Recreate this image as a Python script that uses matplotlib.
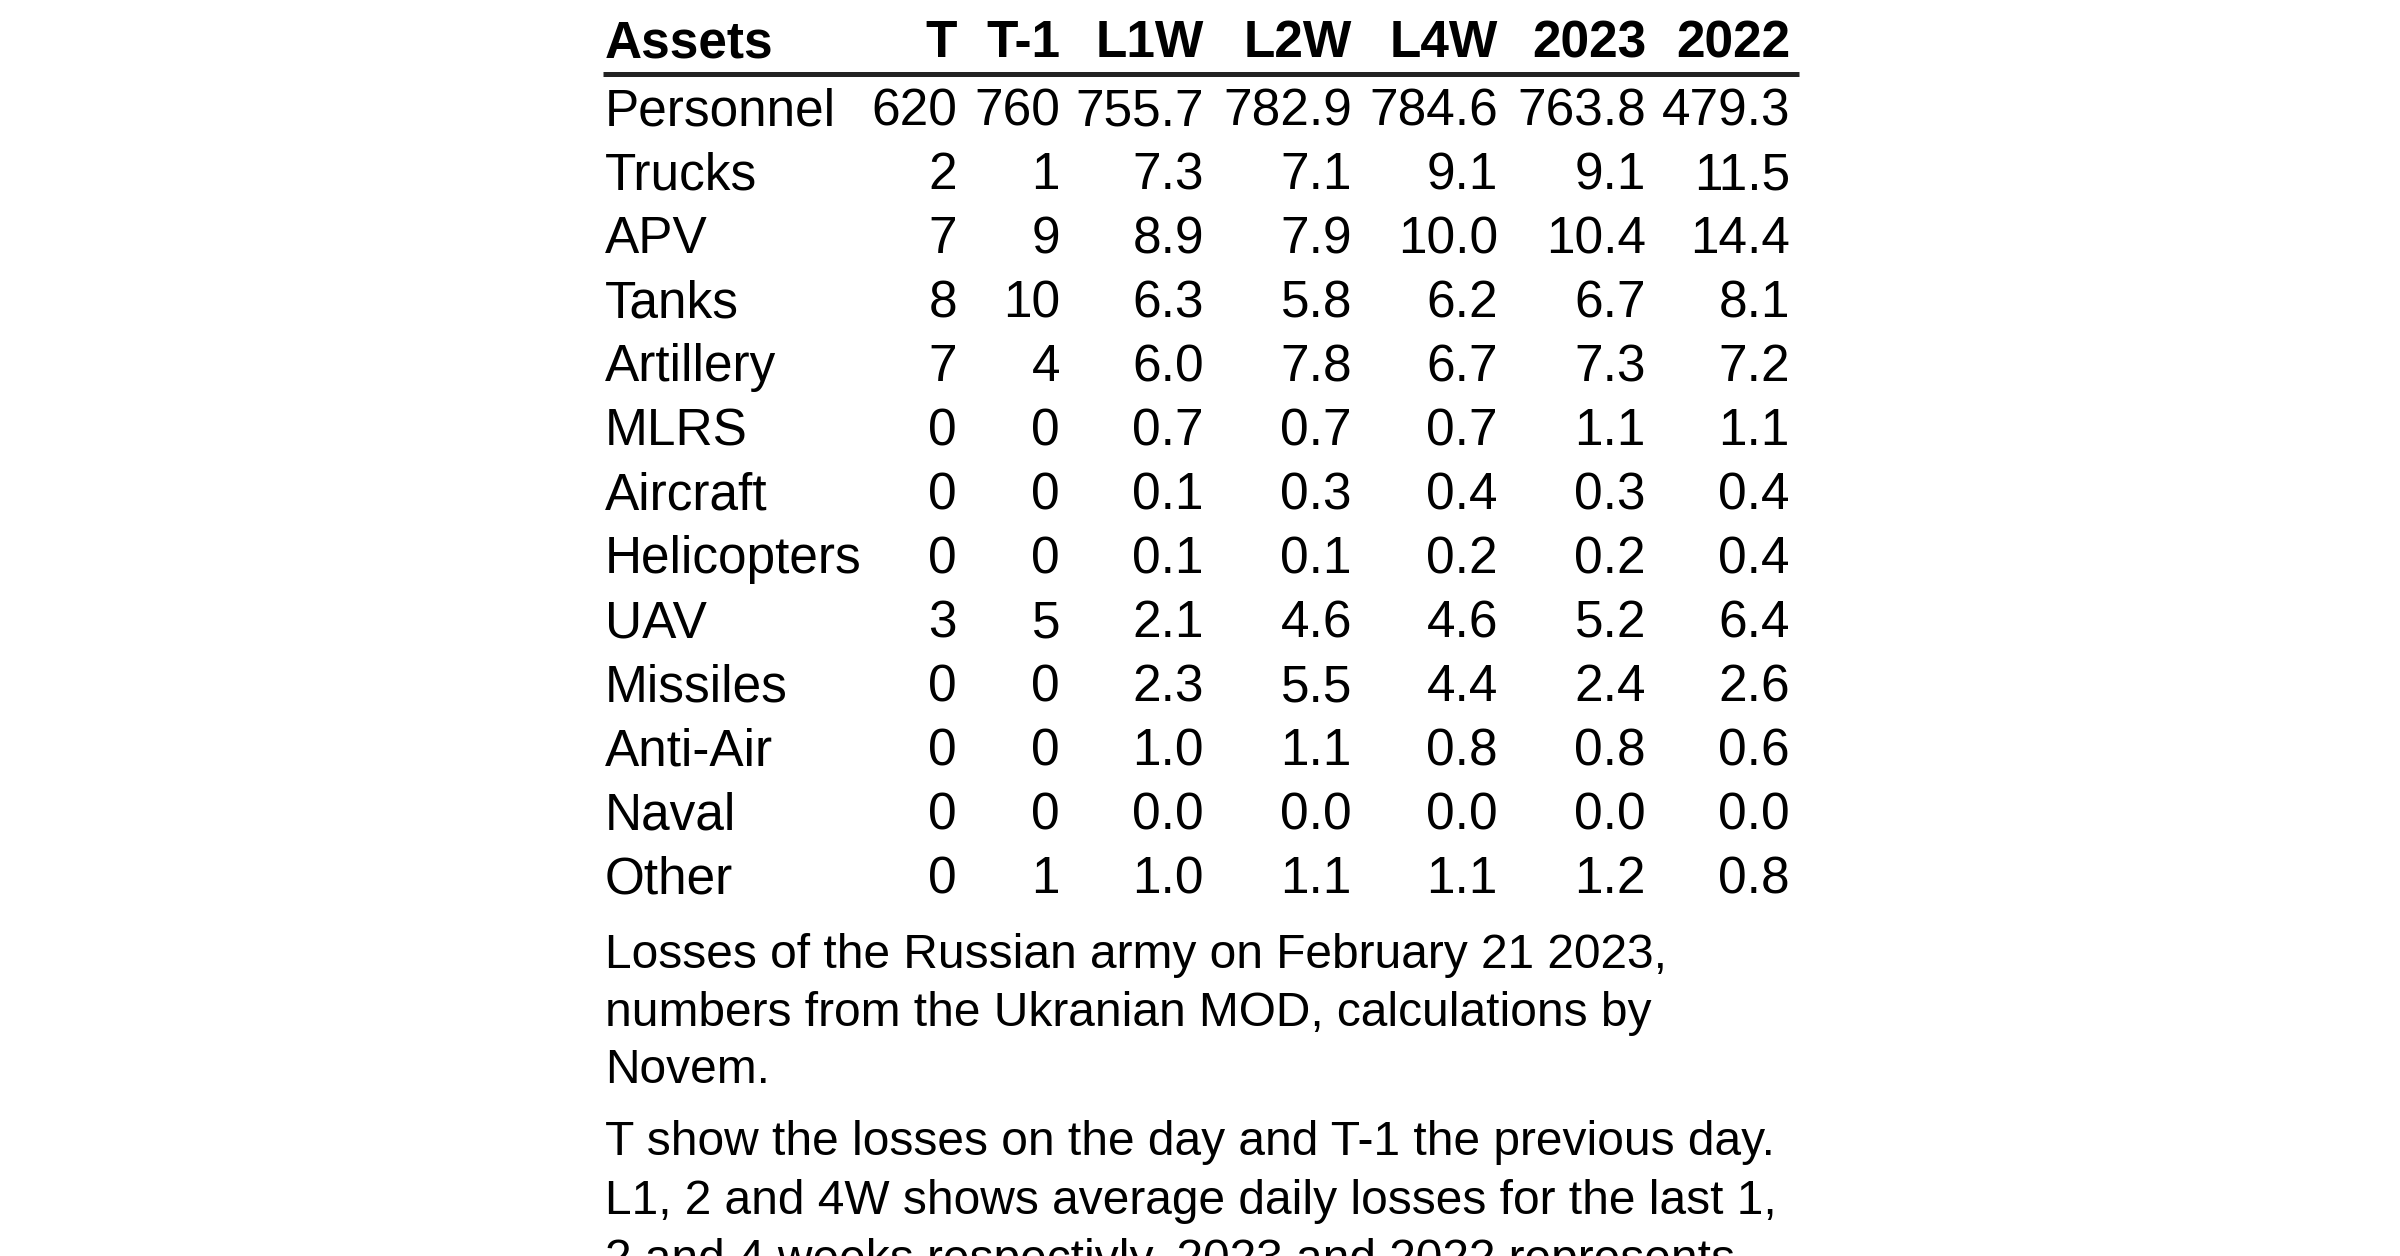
import matplotlib.pyplot as plt

# table data
columns = ['T', 'T-1', 'L1W', 'L2W', 'L4W', '2023', '2022']
assets = ['Personnel', 'Trucks', 'APV', 'Tanks', 'Artillery', 'MLRS', 'Aircraft',
          'Helicopters', 'UAV', 'Missiles', 'Anti-Air', 'Naval', 'Other']
t_today = [620, 2, 7, 8, 7, 0, 0, 0, 3, 0, 0, 0, 0]
t_prev = [760, 1, 9, 10, 4, 0, 0, 0, 5, 0, 0, 0, 1]
l1w = [755.7, 7.3, 8.9, 6.3, 6.0, 0.7, 0.1, 0.1, 2.1, 2.3, 1.0, 0.0, 1.0]
l2w = [782.9, 7.1, 7.9, 5.8, 7.8, 0.7, 0.3, 0.1, 4.6, 5.5, 1.1, 0.0, 1.1]
l4w = [784.6, 9.1, 10.0, 6.2, 6.7, 0.7, 0.4, 0.2, 4.6, 4.4, 0.8, 0.0, 1.1]
y2023 = [763.8, 9.1, 10.4, 6.7, 7.3, 1.1, 0.3, 0.2, 5.2, 2.4, 0.8, 0.0, 1.2]
y2022 = [479.3, 11.5, 14.4, 8.1, 7.2, 1.1, 0.4, 0.4, 6.4, 2.6, 0.6, 0.0, 0.8]

caption1 = ['Losses of the Russian army on February 21 2023,',
            'numbers from the Ukranian MOD, calculations by',
            'Novem.']
caption2 = ['T show the losses on the day and T-1 the previous day.',
            'L1, 2 and 4W shows average daily losses for the last 1,',
            '2 and 4 weeks respectivly. 2023 and 2022 represents']

plt.rcParams['font.family'] = ['Liberation Sans', 'DejaVu Sans']
FS = 37
FS_CAP = 34.5

fig = plt.figure(figsize=(24, 12.56), dpi=100)
ax = fig.add_axes([0, 0, 1, 1])
ax.set_xlim(0, 2400)
ax.set_ylim(1256, 0)
ax.axis('off')

left = 605
col_right = [957, 1060, 1204, 1352, 1498, 1646, 1790]
header_y = 57
row0 = 125
step = 64

# header
ax.text(left, header_y, 'Assets', fontsize=FS, fontweight='bold', va='baseline', ha='left')
for c, x in zip(columns, col_right):
    ax.text(x, header_y, c, fontsize=FS, fontweight='bold', va='baseline', ha='right')
ax.plot([603, 1799], [73.5, 73.5], color='#222222', lw=3.6, solid_capstyle='butt')

# body
series = [t_today, t_prev, l1w, l2w, l4w, y2023, y2022]
for i, name in enumerate(assets):
    y = row0 + step * i
    ax.text(left, y, name, fontsize=FS, va='baseline', ha='left')
    for j, (vals, x) in enumerate(zip(series, col_right)):
        v = vals[i]
        s = str(v) if j < 2 else f'{v:.1f}'
        ax.text(x, y, s, fontsize=FS, va='baseline', ha='right')

# captions
y = 968
for line in caption1:
    ax.text(left, y, line, fontsize=FS_CAP, va='baseline', ha='left')
    y += 57.5
y += 14.5
for line in caption2:
    ax.text(left, y, line, fontsize=FS_CAP, va='baseline', ha='left')
    y += 59

fig.savefig('out.png', dpi=100)
